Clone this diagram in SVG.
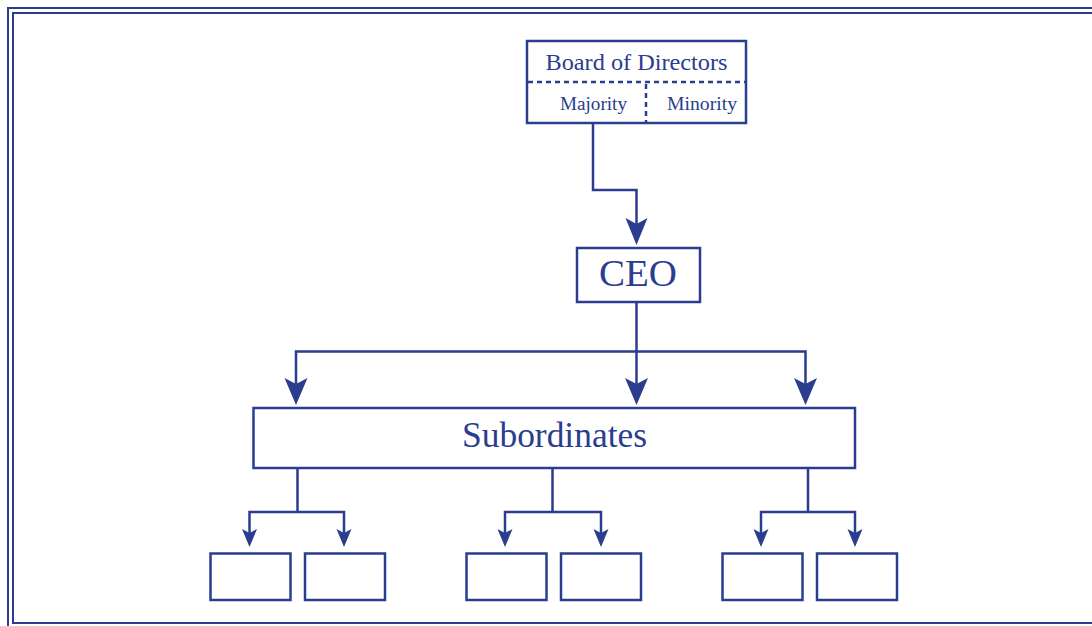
<svg xmlns="http://www.w3.org/2000/svg" width="1092" height="626" viewBox="0 0 1092 626">
<defs>
<style>
.ln{fill:none;stroke:#2a3d8e;stroke-width:2.5}
.bx{fill:#fff;stroke:#2a3d8e;stroke-width:2.5}
.dash{fill:none;stroke:#2a3d8e;stroke-width:2.5;stroke-dasharray:5,4}
.t{font-family:"Liberation Serif","Times New Roman",serif;fill:#2a3d8e;text-anchor:middle}
.ah{fill:#2a3d8e}
</style>
</defs>
<rect x="0" y="0" width="1092" height="626" fill="#fff"/>
<g id="frame">
<rect x="8" y="8" width="1100" height="630" fill="none" stroke="#2a3d8e" stroke-width="2"/>
<rect x="13" y="13" width="1100" height="610" fill="none" stroke="#2a3d8e" stroke-width="2"/>
</g>
<g id="connectors">
<path class="ln" d="M593,123 V190 H636.5 V232"/>
<path class="ah" d="M636.5,245 L625.5,218 L636.5,224 L647.5,218 Z"/>
<path class="ln" d="M636.5,302 V392"/>
<path class="ln" d="M296,392 V351.5 H805.5 V392"/>
<path class="ah" d="M296,405 L284.5,378 L296,384 L307.5,378 Z"/>
<path class="ah" d="M636.5,405 L625,378 L636.5,384 L648,378 Z"/>
<path class="ah" d="M805.5,405 L794,378 L805.5,384 L817,378 Z"/>
<path class="ln" d="M297.5,468 V512 M249.5,538 V512 H344 V538"/>
<path class="ln" d="M552.5,468 V512 M505,538 V512 H601 V538"/>
<path class="ln" d="M808,468 V512 M761,538 V512 H855 V538"/>
<path class="ah" d="M249.5,547 L242,529 L249.5,533 L257,529 Z M344,547 L336.5,529 L344,533 L351.5,529 Z"/>
<path class="ah" d="M505,547 L497.5,529 L505,533 L512.5,529 Z M601,547 L593.5,529 L601,533 L608.5,529 Z"/>
<path class="ah" d="M761,547 L753.5,529 L761,533 L768.5,529 Z M855,547 L847.5,529 L855,533 L862.5,529 Z"/>
</g>
<g id="board">
<rect class="bx" x="527" y="41" width="219" height="82"/>
<line class="dash" x1="528" y1="82" x2="745" y2="82"/>
<line class="dash" x1="646" y1="84" x2="646" y2="122"/>
<text class="t" x="636.5" y="70" font-size="23" textLength="182" lengthAdjust="spacingAndGlyphs">Board of Directors</text>
<text class="t" x="593.5" y="110" font-size="18" textLength="67" lengthAdjust="spacingAndGlyphs">Majority</text>
<text class="t" x="702" y="110" font-size="18" textLength="70" lengthAdjust="spacingAndGlyphs">Minority</text>
</g>
<g id="ceo">
<rect class="bx" x="577" y="248" width="123" height="54"/>
<text class="t" x="638" y="286" font-size="37" textLength="78" lengthAdjust="spacingAndGlyphs">CEO</text>
</g>
<g id="subordinates">
<rect class="bx" x="253.5" y="408" width="601.5" height="60"/>
<text class="t" x="554.5" y="447" font-size="35" textLength="185" lengthAdjust="spacingAndGlyphs">Subordinates</text>
</g>
<g id="s1"><rect class="bx" x="210.5" y="553.5" width="80" height="46.5"/></g>
<g id="s2"><rect class="bx" x="305" y="553.5" width="80" height="46.5"/></g>
<g id="s3"><rect class="bx" x="466.5" y="553.5" width="80" height="46.5"/></g>
<g id="s4"><rect class="bx" x="561" y="553.5" width="80" height="46.5"/></g>
<g id="s5"><rect class="bx" x="722.5" y="553.5" width="80" height="46.5"/></g>
<g id="s6"><rect class="bx" x="817" y="553.5" width="80" height="46.5"/></g>
</svg>
